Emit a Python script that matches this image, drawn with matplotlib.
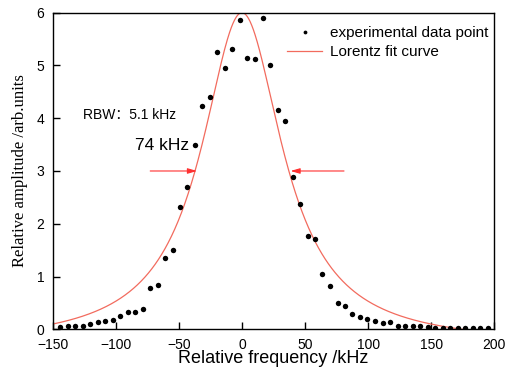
import numpy as np
import matplotlib
matplotlib.use("Agg")
import matplotlib.pyplot as plt

plt.rcParams['font.family'] = ['Liberation Sans', 'DejaVu Sans']

# Experimental data points (relative frequency in kHz, amplitude arb. units)
freq_khz = [-144.2, -138.1, -132.0, -126.2, -120.1, -114.2, -108.4, -102.5, -96.5, -90.6,
            -84.6, -78.8, -72.7, -66.9, -60.8, -55.0, -49.1, -43.3, -37.5, -31.4,
            -25.3, -19.5, -13.3, -7.5, -1.7, 4.4, 10.2, 16.3, 22.1, 28.2,
            34.0, 40.1, 45.9, 52.0, 57.8, 63.7, 69.8, 75.9, 81.7, 87.6,
            93.6, 99.5, 105.5, 111.4, 117.4, 123.3, 129.3, 135.2, 141.3, 147.1,
            152.9, 159.1, 164.9, 171.0, 176.8, 182.9, 188.7, 194.8]
amplitude = [0.05, 0.06, 0.06, 0.07, 0.10, 0.13, 0.16, 0.18, 0.25, 0.33,
             0.33, 0.38, 0.79, 0.84, 1.36, 1.50, 2.32, 2.70, 3.49, 4.24,
             4.41, 5.25, 4.95, 5.31, 5.86, 5.15, 5.12, 5.90, 5.01, 4.16,
             3.94, 2.89, 2.37, 1.77, 1.71, 1.05, 0.82, 0.50, 0.44, 0.29,
             0.23, 0.20, 0.16, 0.11, 0.13, 0.06, 0.06, 0.06, 0.055, 0.05,
             0.03, 0.03, 0.03, 0.03, 0.03, 0.025, 0.025, 0.025]

# Lorentz fit parameters
lorentz_center = 0.0
lorentz_halfwidth = 39.0
lorentz_amplitude = 6.3
lorentz_offset = -0.3

fwhm_label = "74 kHz"
rbw_label = "RBW\uff1a5.1 kHz"
fwhm_left = -35.6
fwhm_right = 38.5
fwhm_level = 3.0

x_ticks = [-150, -100, -50, 0, 50, 100, 150, 200]
y_ticks = [0, 1, 2, 3, 4, 5, 6]

fig = plt.figure(figsize=(5.11, 3.72), dpi=100)
ax = fig.add_axes([0.1031, 0.1148, 0.8642, 0.8511])

xf = np.linspace(-150, 200, 800)
yf = lorentz_offset + lorentz_amplitude * lorentz_halfwidth**2 / (lorentz_halfwidth**2 + (xf - lorentz_center)**2)

ax.plot(freq_khz, amplitude, 'o', color='black', markersize=3.9, markeredgewidth=0,
        label='experimental data point', zorder=3)
ax.plot(xf, yf, color='#F26B5E', lw=0.9, label='Lorentz fit curve', zorder=2)

ax.set_xlim(-150, 200)
ax.set_ylim(0, 6)
ax.set_xticks(x_ticks)
ax.set_yticks(y_ticks)
ax.tick_params(direction='in', length=5, width=1, labelsize=10, pad=6, colors='black')
for s in ax.spines.values():
    s.set_linewidth(1.0)
    s.set_color('black')

ax.set_xlabel('Relative frequency /kHz', fontsize=13, labelpad=-1)
ax.set_ylabel('Relative amplitude /arb.units', fontsize=12,
              family=['Liberation Serif', 'DejaVu Serif'], labelpad=6)

# annotations
ax.text(-126, 4.06, rbw_label, fontsize=10, va='center', ha='left',
        family=['Liberation Sans', 'Noto Sans CJK SC', 'DejaVu Sans'])
ax.text(-41.5, 3.49, fwhm_label, fontsize=12.5, va='center', ha='right')

arrow_kw = dict(arrowstyle='-|>,head_length=0.55,head_width=0.16', color='#FF3030', lw=0.8,
                shrinkA=0, shrinkB=0)
ax.annotate('', xy=(fwhm_left, fwhm_level), xytext=(-72.7, fwhm_level), arrowprops=arrow_kw)
ax.annotate('', xy=(fwhm_right, fwhm_level), xytext=(80.9, fwhm_level), arrowprops=arrow_kw)

ax.legend(loc='upper left', bbox_to_anchor=(0.5306, 0.958), frameon=False, fontsize=11,
          borderpad=0, borderaxespad=0, handlelength=2.3, handletextpad=0.5,
          labelspacing=0.32, markerscale=0.7)

fig.savefig('out.png', dpi=100)
